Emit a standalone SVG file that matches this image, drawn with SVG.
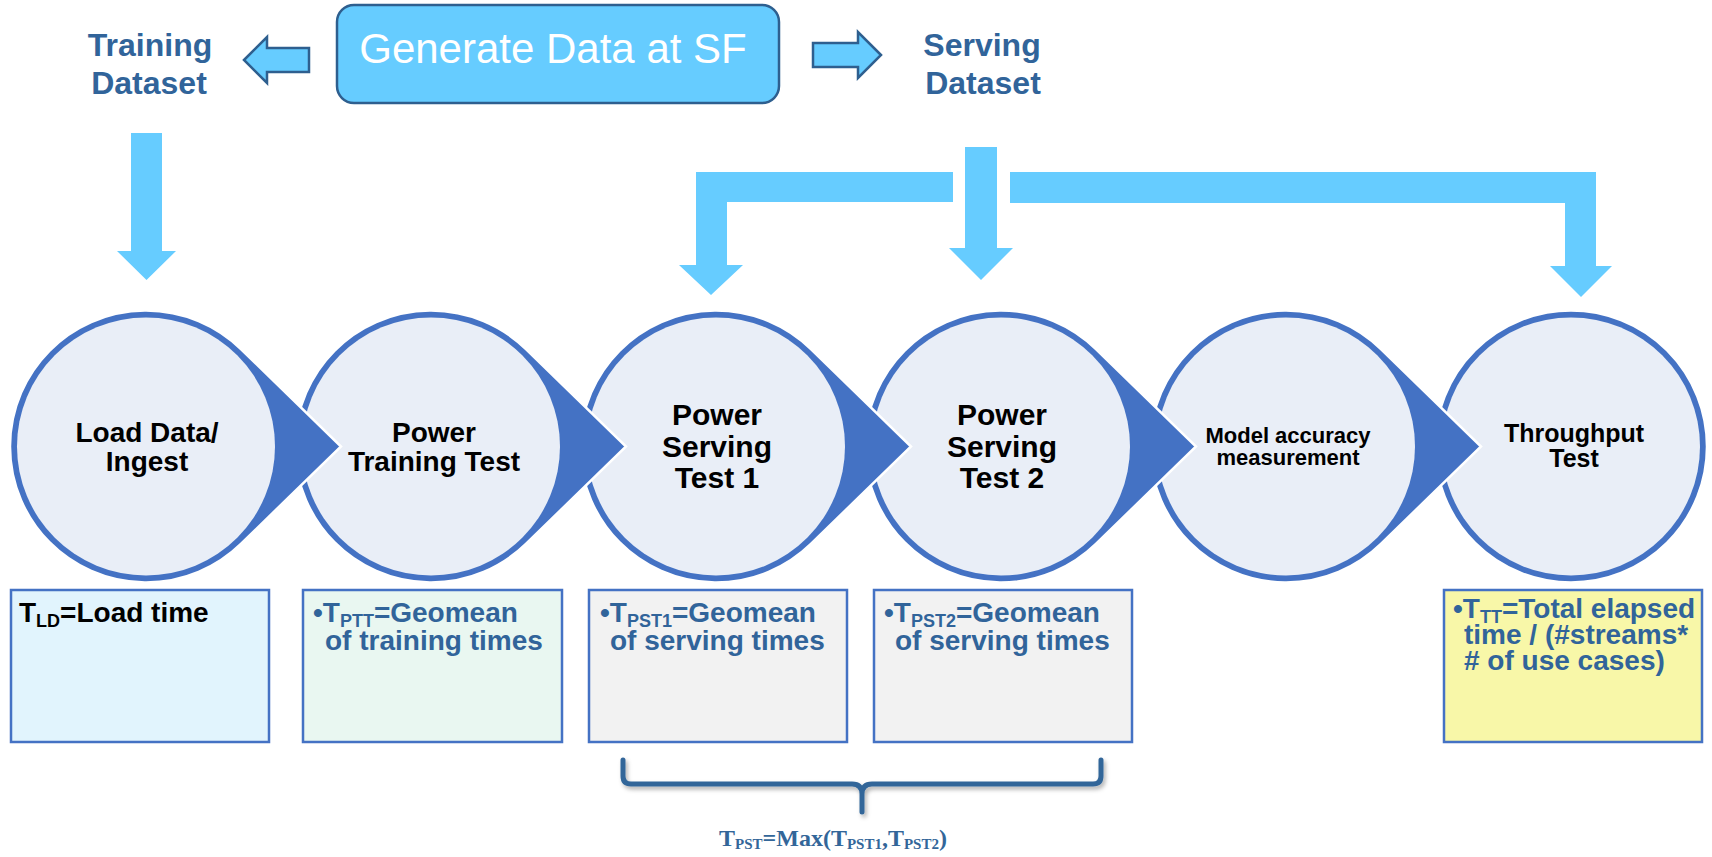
<svg xmlns="http://www.w3.org/2000/svg" xmlns:xlink="http://www.w3.org/1999/xlink" width="1712" height="857" viewBox="0 0 1712 857">
<style>
.lbl{font-family:"Liberation Sans",Arial,sans-serif;font-weight:bold;fill:#31649A}
.ctext{font-family:"Liberation Sans",Arial,sans-serif;font-weight:bold;fill:#000;text-anchor:middle}
.btext{font-family:"Liberation Sans",Arial,sans-serif;font-weight:bold;font-size:28px;fill:#31649A}
.flow{fill:#66CCFF;stroke:none}
.hollow{fill:#66CCFF;stroke:#2E5F8F;stroke-width:2.5;stroke-linejoin:miter}
.ring{fill:#4472C4;stroke:#FFFFFF;stroke-width:2.5}
.inner{fill:#E9EEF7}
.box{stroke:#4472C4;stroke-width:2.5}
</style>
<defs>
<path id="drop" d="M94.9,-97.4 L195,0 L94.9,97.4 A136,136 0 1 1 94.9,-97.4 Z"/>
<filter id="shadow" x="-5%" y="-30%" width="110%" height="160%">
<feDropShadow dx="2" dy="3" stdDeviation="2" flood-color="#000" flood-opacity="0.3"/>
</filter>
</defs>
<rect width="1712" height="857" fill="#FFFFFF"/>

<g id="generate">
<rect x="337" y="5" width="442" height="98" rx="17" ry="17" fill="#66CCFF" stroke="#2E5F8F" stroke-width="2.5"/>
<text x="553" y="63" font-family="'Liberation Sans',Arial,sans-serif" font-size="42" fill="#FFFFFF" text-anchor="middle">Generate Data at SF</text>
</g>

<g id="training-dataset">
<text class="lbl" font-size="32" text-anchor="middle"><tspan x="150" y="56">Training</tspan><tspan x="149" y="94">Dataset</tspan></text>
</g>

<g id="serving-dataset">
<text class="lbl" font-size="32" text-anchor="middle"><tspan x="982" y="56">Serving</tspan><tspan x="983" y="94">Dataset</tspan></text>
</g>

<g id="connectors">
<polygon class="hollow" points="244,60 267,37 267,48 309,48 309,72 267,72 267,83"/>
<polygon class="hollow" points="881,55 858,32 858,43 813,43 813,67 858,67 858,78"/>
<polygon class="flow" points="131,133 162,133 162,251 176,251 146.5,280 117,251 131,251"/>
<polygon class="flow" points="953,172 696,172 696,265 679,265 711,295 743,265 727,265 727,202 953,202"/>
<polygon class="flow" points="965,147 997,147 997,248 1013,248 981,280 949,248 965,248"/>
<polygon class="flow" points="1010,172 1596,172 1596,266 1612,266 1581,297 1550,266 1565,266 1565,203 1010,203"/>
</g>

<g id="throughput-test">
<circle cx="1571" cy="446.5" r="136" class="ring"/>
<circle cx="1571" cy="446.5" r="129" class="inner"/>
<text class="ctext" font-size="25"><tspan x="1574" y="442">Throughput</tspan><tspan x="1574" y="467">Test</tspan></text>
</g>

<g id="model-accuracy">
<use xlink:href="#drop" href="#drop" x="1286" y="446.5" class="ring"/>
<circle cx="1286" cy="446.5" r="129" class="inner"/>
<text class="ctext" font-size="22"><tspan x="1288" y="443">Model accuracy</tspan><tspan x="1288" y="465">measurement</tspan></text>
</g>

<g id="power-serving-2">
<use xlink:href="#drop" href="#drop" x="1001" y="446.5" class="ring"/>
<circle cx="1001" cy="446.5" r="129" class="inner"/>
<text class="ctext" font-size="30"><tspan x="1002" y="425">Power</tspan><tspan x="1002" y="457">Serving</tspan><tspan x="1002" y="488">Test 2</tspan></text>
</g>

<g id="power-serving-1">
<use xlink:href="#drop" href="#drop" x="716" y="446.5" class="ring"/>
<circle cx="716" cy="446.5" r="129" class="inner"/>
<text class="ctext" font-size="30"><tspan x="717" y="425">Power</tspan><tspan x="717" y="457">Serving</tspan><tspan x="717" y="488">Test 1</tspan></text>
</g>

<g id="power-training">
<use xlink:href="#drop" href="#drop" x="431" y="446.5" class="ring"/>
<circle cx="431" cy="446.5" r="129" class="inner"/>
<text class="ctext" font-size="28"><tspan x="434" y="442">Power</tspan><tspan x="434" y="471">Training Test</tspan></text>
</g>

<g id="load-data">
<use xlink:href="#drop" href="#drop" x="146" y="446.5" class="ring"/>
<circle cx="146" cy="446.5" r="129" class="inner"/>
<text class="ctext" font-size="28"><tspan x="147" y="442">Load Data/</tspan><tspan x="147" y="471">Ingest</tspan></text>
</g>

<g id="box-load">
<rect x="11" y="590" width="258" height="152" fill="#E1F4FD" class="box"/>
<text class="btext" x="19" y="622" style="fill:#000">T<tspan font-size="18" dy="5">LD</tspan><tspan dy="-5">=Load time</tspan></text>
</g>

<g id="box-training">
<rect x="303" y="590" width="259" height="152" fill="#E9F7F1" class="box"/>
<text class="btext" x="313" y="622">•T<tspan font-size="18" dy="5">PTT</tspan><tspan dy="-5">=Geomean</tspan></text>
<text class="btext" x="325" y="650">of training times</text>
</g>

<g id="box-serving-1">
<rect x="589" y="590" width="258" height="152" fill="#F2F2F2" class="box"/>
<text class="btext" x="600" y="622">•T<tspan font-size="18" dy="5">PST1</tspan><tspan dy="-5">=Geomean</tspan></text>
<text class="btext" x="610" y="650">of serving times</text>
</g>

<g id="box-serving-2">
<rect x="874" y="590" width="258" height="152" fill="#F2F2F2" class="box"/>
<text class="btext" x="884" y="622">•T<tspan font-size="18" dy="5">PST2</tspan><tspan dy="-5">=Geomean</tspan></text>
<text class="btext" x="895" y="650">of serving times</text>
</g>

<g id="box-throughput">
<rect x="1444" y="590" width="258" height="152" fill="#F8F7A8" class="box"/>
<text class="btext" x="1453" y="618">•T<tspan font-size="18" dy="5">TT</tspan><tspan dy="-5">=Total elapsed</tspan></text>
<text class="btext" x="1464" y="644">time / (#streams*</text>
<text class="btext" x="1464" y="670"># of use cases)</text>
</g>

<g id="bracket">
<path d="M623,760 L623,776 Q623,784 631,784 L852,784 Q862,784 862,794 L862,812 M862,794 Q862,784 872,784 L1093,784 Q1101,784 1101,776 L1101,760" fill="none" stroke="#336699" stroke-width="5" stroke-linecap="round" stroke-linejoin="round" filter="url(#shadow)"/>
<text x="833" y="846" font-family="'Liberation Serif','Times New Roman',serif" font-weight="bold" font-size="24" fill="#336699" text-anchor="middle">T<tspan font-size="15" dy="3">PST</tspan><tspan dy="-3">=Max(T</tspan><tspan font-size="15" dy="3">PST1</tspan><tspan dy="-3">,T</tspan><tspan font-size="15" dy="3">PST2</tspan><tspan dy="-3">)</tspan></text>
</g>
</svg>
